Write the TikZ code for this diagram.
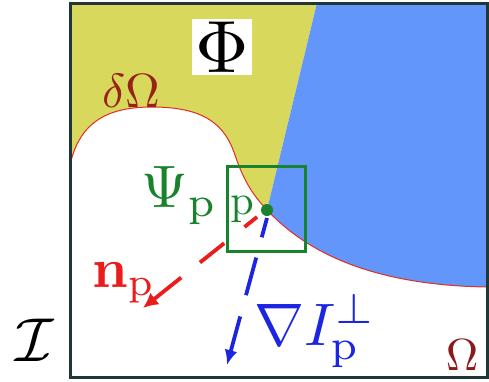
\documentclass[tikz,border=0pt]{standalone}
\usepackage{amssymb}
\usepackage{amsmath}
\usetikzlibrary{arrows.meta}
\definecolor{phiyellow}{RGB}{216,216,92}
\definecolor{omegablue}{RGB}{98,150,250}
\definecolor{psigreen}{RGB}{25,130,45}
\definecolor{normalred}{RGB}{235,28,28}
\definecolor{gradblue}{RGB}{28,38,225}
\definecolor{edgered}{RGB}{225,45,35}
\definecolor{omegared}{RGB}{140,25,25}
\definecolor{frameink}{RGB}{32,55,55}

\begin{document}
\begin{tikzpicture}[x=1pt, y=-1pt,
  boundary/.style={edgered, line width=1pt},
  frame/.style={frameink, line width=3pt},
  bigsym/.style={scale=#1, inner sep=0pt}]
\useasboundingbox (0,0) rectangle (489,381);
% named points of the domain
\coordinate (p) at (267,210);
\coordinate (nstart) at (257,217);
\coordinate (nend) at (143,308);
\coordinate (gstart) at (267,218);
\coordinate (gend) at (227,365);
% yellow part of Phi (left of the split line)
\fill[phiyellow] (70,3) -- (317,3) -- (p)
  .. controls (256,198) and (245,185) .. (235,155)
  .. controls (225,125) and (205,107) .. (152,107)
  .. controls (110,107) and (80,120) .. (70,165) -- cycle;
% blue part of Phi
\fill[omegablue] (317,3) -- (487,3) -- (487,287)
  .. controls (360,285) and (300,245) .. (p) -- cycle;
% boundary delta Omega
\draw[boundary] (70,165) .. controls (80,120) and (110,107) .. (152,107)
  .. controls (205,107) and (225,125) .. (235,155)
  .. controls (245,185) and (256,198) .. (p)
  .. controls (300,245) and (360,285) .. (487,287);
\draw[frame] (70,3) rectangle (487,377);
% patch Psi_p round p
\node[draw=psigreen, line width=3pt, minimum width=78pt, minimum height=85pt, inner sep=0pt] (psibox) at (266,208.5) {};
\node[circle, fill=psigreen, minimum size=12pt, inner sep=0pt] (pdot) at (p) {};
% normal and isophote direction
\draw[normalred, line width=3.8pt, dash pattern=on 16pt off 26pt on 31pt off 24pt on 80pt,
  -{Latex[length=15pt, width=15pt]}] (nstart) -- (nend);
\draw[gradblue, line width=3.8pt, dash pattern=on 20pt off 21pt on 39pt off 22pt on 80pt,
  -{Latex[length=15pt, width=13pt]}] (gstart) -- (gend);
% labels
\node[bigsym=7.4, fill=white, minimum width=8.1pt, minimum height=7.7pt] (phi) at (222,47) {$\Phi$};
\node[bigsym=4.8, text=omegared!90!orange] (dom) at (131,91) {$\delta\Omega$};
\node[bigsym=6, text=psigreen, anchor=base west] (psi) at (140,207) {$\Psi_{\mathrm{p}}$};
\node[bigsym=4.2, text=psigreen, anchor=base] (plabel) at (242,214) {$\mathrm{p}$};
\node[bigsym=5.6, text=normalred, anchor=base west] (nlabel) at (91,287) {$\mathbf{n}_{\mathrm{p}}$};
\node[bigsym=6, text=gradblue, anchor=base west] (glabel) at (253,345) {$\nabla I_{\mathrm{p}}^{\perp}$};
\node[bigsym=6.2, anchor=base west] (img) at (14,361) {$\mathcal{I}$};
\node[bigsym=4.5, text=omegared, anchor=base west] (omega) at (445,370) {$\Omega$};
\end{tikzpicture}
\end{document}
